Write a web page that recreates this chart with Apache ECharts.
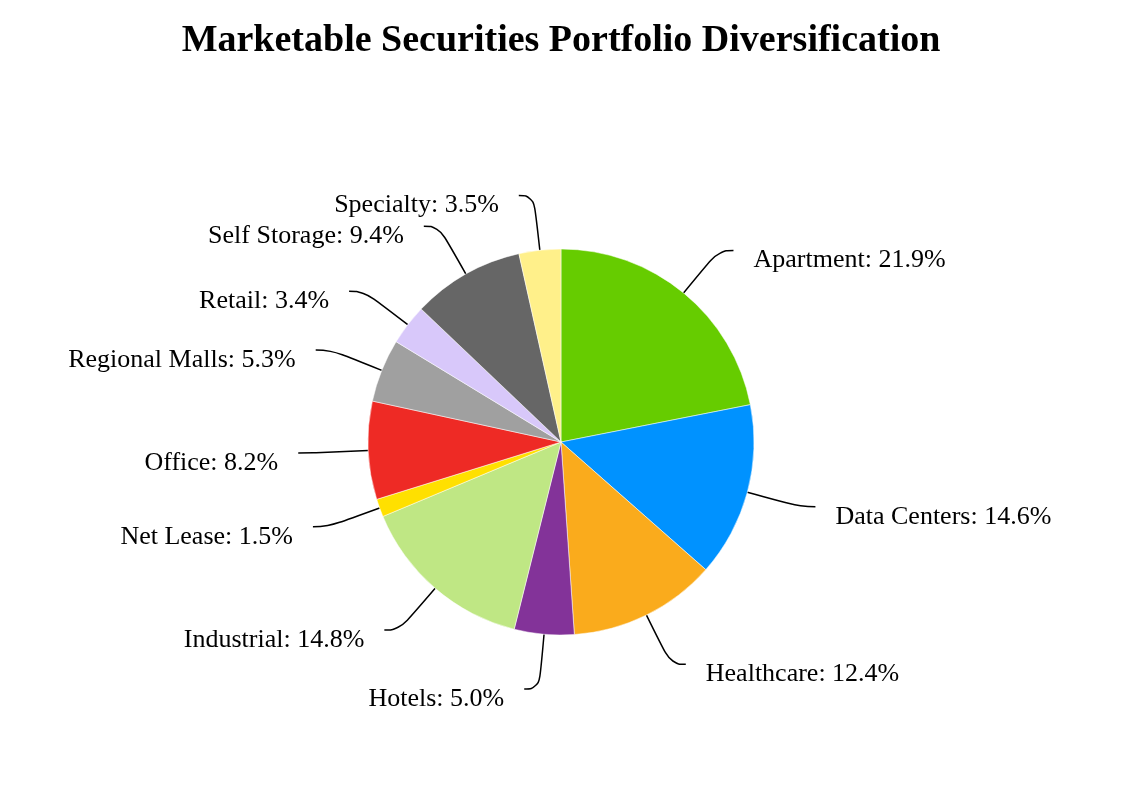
<!DOCTYPE html>
<html><head><meta charset="utf-8">
<script src="https://cdn.jsdelivr.net/npm/echarts@6/dist/echarts.min.js"></script>
<style>html,body{margin:0;padding:0;background:#fff}#c{width:1122px;height:810px}</style>
</head><body><div id="c"></div>
<script>
const categories = ["Apartment","Data Centers","Healthcare","Hotels","Industrial","Net Lease","Office","Regional Malls","Retail","Self Storage","Specialty"];
const values = [21.9,14.6,12.4,5.0,14.8,1.5,8.2,5.3,3.4,9.4,3.5];
const colors = ["#66cc00","#0092ff","#faab1c","#833399","#bfe784","#ffe000","#ee2a25","#a0a0a0","#d8c8fa","#666666","#fff08a"];
const chart = echarts.init(document.getElementById('c'));
chart.setOption({
  animation:false,
  title:{text:"Marketable Securities Portfolio Diversification",left:'center',top:17,
    textStyle:{fontFamily:"Liberation Serif",fontWeight:'bold',fontSize:38,color:'#000'}},
  series:[{
    type:'pie',center:[561,442],radius:193,startAngle:90,clockwise:true,
    data:categories.map((c,i)=>({name:c,value:values[i],itemStyle:{color:colors[i]}})),
    itemStyle:{borderColor:'#fff',borderWidth:0.5},
    label:{formatter:p=>p.name+': '+p.value.toFixed(1)+'%',fontFamily:"Liberation Serif",fontSize:26,color:'#000',
      distanceToLabelLine:20},
    labelLayout:()=>({dy:10}),
    labelLine:{length:55,length2:15,smooth:0.5,lineStyle:{color:'#000',width:1.5}}
  }]
});
</script></body></html>
